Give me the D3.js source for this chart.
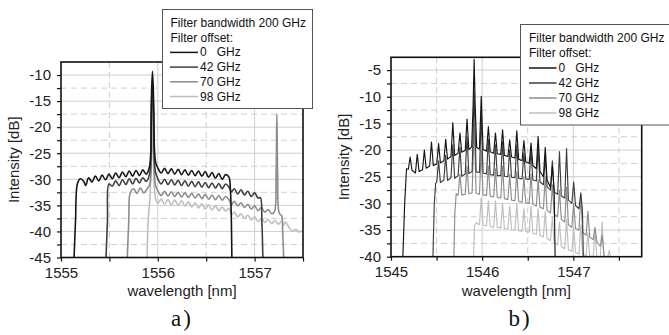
<!DOCTYPE html>
<html>
<head>
<meta charset="utf-8">
<script src="https://cdn.jsdelivr.net/npm/d3@7"></script>
<style>
  body { margin: 0; background: #fff; }
  svg { display: block; font-family: "Liberation Sans", Arial, sans-serif; }
</style>
</head>
<body>
<svg id="chart" width="669" height="335"></svg>
<script>
// ---- data (wavelength nm, intensity dB) ----
const legendTitle = ["Filter bandwidth 200 GHz", "Filter offset:"];
const offsetNames = ["0   GHz", "42 GHz", "70 GHz", "98 GHz"];

const wlTicksA = [1555, 1555.5, 1556, 1556.5, 1557, 1557.5];
const dbTicksA = [-45, -42.5, -40, -37.5, -35, -32.5, -30, -27.5, -25, -22.5, -20, -17.5, -15, -12.5, -10];
const wlTicksB = [1545, 1545.5, 1546, 1546.5, 1547, 1547.5];
const dbTicksB = [-40, -37.5, -35, -32.5, -30, -27.5, -25, -22.5, -20, -17.5, -15, -12.5, -10, -7.5, -5];

// panel a)
const specA0 = [[1555.135,-45],[1555.15,-38],[1555.17,-30.8],[1555.2,-29.9],[1555.235,-30.4],[1555.255,-31.2],[1555.285,-29.7],[1555.32,-30.5],[1555.355,-29.4],[1555.39,-30.3],[1555.425,-29.2],[1555.46,-30.1],[1555.495,-29.0],[1555.53,-29.9],[1555.565,-28.8],[1555.6,-29.7],[1555.635,-28.6],[1555.67,-29.5],[1555.705,-28.4],[1555.74,-29.4],[1555.775,-28.3],[1555.81,-29.3],[1555.845,-28.2],[1555.88,-29.0],[1555.915,-27.5],[1555.933,-15],[1555.945,-9.3],[1555.957,-15],[1555.975,-26.5],[1556.0,-27.8],[1556.035,-28.8],[1556.07,-27.9],[1556.105,-28.9],[1556.14,-28.0],[1556.175,-29.0],[1556.21,-28.1],[1556.245,-29.1],[1556.28,-28.2],[1556.315,-29.2],[1556.35,-28.3],[1556.385,-29.3],[1556.42,-28.4],[1556.455,-29.4],[1556.49,-28.5],[1556.525,-29.6],[1556.56,-28.7],[1556.595,-29.8],[1556.63,-28.9],[1556.665,-30.0],[1556.7,-29.1],[1556.735,-29.6],[1556.75,-32],[1556.765,-45]];
const specA42 = [[1555.465,-45],[1555.48,-38],[1555.495,-30.9],[1555.53,-31.3],[1555.565,-30.3],[1555.6,-31.2],[1555.635,-30.1],[1555.67,-31.0],[1555.705,-29.9],[1555.74,-30.9],[1555.775,-29.8],[1555.81,-30.7],[1555.845,-29.7],[1555.88,-30.4],[1555.915,-29],[1555.933,-18],[1555.945,-12.5],[1555.957,-18],[1555.975,-28.5],[1556.0,-29.9],[1556.035,-30.9],[1556.07,-30.0],[1556.105,-31.0],[1556.14,-30.1],[1556.175,-31.1],[1556.21,-30.2],[1556.245,-31.2],[1556.28,-30.3],[1556.315,-31.3],[1556.35,-30.4],[1556.385,-31.4],[1556.42,-30.5],[1556.455,-31.5],[1556.49,-30.6],[1556.525,-31.6],[1556.56,-30.7],[1556.595,-31.7],[1556.63,-30.8],[1556.665,-31.8],[1556.7,-30.9],[1556.735,-31.5],[1556.76,-32.4],[1556.79,-31.8],[1556.825,-32.8],[1556.86,-32.0],[1556.895,-33.0],[1556.93,-32.3],[1556.965,-33.3],[1557.0,-32.6],[1557.035,-33.6],[1557.06,-33.5],[1557.075,-38],[1557.085,-45]];
const specA70 = [[1555.685,-45],[1555.7,-38],[1555.715,-32.6],[1555.75,-31.8],[1555.785,-32.7],[1555.82,-31.7],[1555.855,-32.6],[1555.89,-31.8],[1555.917,-31],[1555.935,-20],[1555.945,-14.5],[1555.955,-20],[1555.975,-31],[1556.0,-32.2],[1556.035,-33.1],[1556.07,-32.3],[1556.105,-33.2],[1556.14,-32.4],[1556.175,-33.3],[1556.21,-32.5],[1556.245,-33.4],[1556.28,-32.6],[1556.315,-33.5],[1556.35,-32.7],[1556.385,-33.6],[1556.42,-32.8],[1556.455,-33.7],[1556.49,-32.9],[1556.525,-33.8],[1556.56,-33.0],[1556.595,-33.9],[1556.63,-33.1],[1556.665,-34.0],[1556.7,-33.3],[1556.735,-33.9],[1556.76,-34.9],[1556.79,-34.2],[1556.825,-35.1],[1556.86,-34.5],[1556.895,-35.4],[1556.93,-34.8],[1556.965,-35.7],[1557.0,-35.1],[1557.035,-36.0],[1557.07,-35.4],[1557.105,-36.3],[1557.14,-35.8],[1557.175,-36.6],[1557.205,-36.2],[1557.222,-29],[1557.23,-17.5],[1557.238,-29],[1557.255,-36.5],[1557.28,-37],[1557.29,-40],[1557.3,-45]];
const specA98 = [[1555.89,-45],[1555.9,-38],[1555.917,-34],[1555.937,-24],[1555.945,-17.5],[1555.953,-24],[1555.975,-33.5],[1556.0,-34.6],[1556.035,-33.8],[1556.07,-34.8],[1556.105,-33.9],[1556.14,-34.9],[1556.175,-34.0],[1556.21,-35.0],[1556.245,-34.1],[1556.28,-35.1],[1556.315,-34.3],[1556.35,-35.3],[1556.385,-34.5],[1556.42,-35.5],[1556.455,-34.7],[1556.49,-35.7],[1556.525,-34.9],[1556.56,-35.9],[1556.595,-35.1],[1556.63,-36.0],[1556.665,-35.3],[1556.7,-36.1],[1556.735,-35.5],[1556.76,-36.8],[1556.79,-36.3],[1556.825,-37.2],[1556.86,-36.6],[1556.895,-37.5],[1556.93,-36.9],[1556.965,-37.8],[1557.0,-37.2],[1557.035,-38.1],[1557.07,-37.5],[1557.105,-38.3],[1557.14,-37.7],[1557.175,-38.5],[1557.21,-37.9],[1557.245,-38.6],[1557.28,-38.0],[1557.3,-38.8],[1557.32,-38.2],[1557.355,-39.2],[1557.39,-39.9],[1557.425,-39.6],[1557.46,-40.1],[1557.5,-39.8]];

// panel b)
const specB0 = [[1545.13,-40],[1545.15,-30],[1545.17,-23.5],[1545.19,-23.6],[1545.21,-21.3],[1545.23,-23.8],[1545.268,-24.3],[1545.288,-20.8],[1545.308,-24.0],[1545.346,-23.7],[1545.366,-20.0],[1545.386,-23.4],[1545.424,-23.0],[1545.444,-18.5],[1545.464,-22.9],[1545.502,-22.6],[1545.522,-18.8],[1545.542,-22.4],[1545.58,-22.0],[1545.6,-18.0],[1545.62,-21.7],[1545.658,-21.2],[1545.678,-14.9],[1545.698,-21.0],[1545.736,-20.6],[1545.756,-16.8],[1545.776,-20.4],[1545.814,-20.1],[1545.834,-14.2],[1545.854,-19.9],[1545.885,-19.4],[1545.9,-12],[1545.912,-3.0],[1545.924,-12],[1545.94,-19.5],[1545.97,-19.8],[1545.99,-9.9],[1546.01,-19.9],[1546.048,-20.2],[1546.068,-15.6],[1546.088,-20.3],[1546.126,-20.6],[1546.146,-16.8],[1546.166,-20.7],[1546.204,-20.8],[1546.224,-16.2],[1546.244,-21.0],[1546.282,-21.2],[1546.302,-18.1],[1546.322,-21.3],[1546.36,-21.5],[1546.38,-16.4],[1546.4,-21.7],[1546.438,-22.0],[1546.458,-18.2],[1546.478,-22.2],[1546.516,-22.5],[1546.536,-18.7],[1546.556,-22.9],[1546.594,-23.5],[1546.614,-17.4],[1546.634,-24.0],[1546.672,-25.0],[1546.692,-19.5],[1546.712,-25.6],[1546.75,-27.0],[1546.77,-23.0],[1546.79,-27.8],[1546.8,-40]];
const specB42 = [[1545.46,-40],[1545.475,-30],[1545.49,-26.2],[1545.502,-26.0],[1545.522,-22.0],[1545.542,-26.1],[1545.58,-25.6],[1545.6,-21.0],[1545.62,-25.7],[1545.658,-25.2],[1545.678,-19.0],[1545.698,-25.3],[1545.736,-24.8],[1545.756,-19.5],[1545.776,-24.9],[1545.814,-24.5],[1545.834,-17.5],[1545.854,-24.4],[1545.89,-24.0],[1545.912,-9.0],[1545.934,-24.1],[1545.97,-24.2],[1545.99,-13.5],[1546.01,-24.3],[1546.048,-24.5],[1546.068,-18.0],[1546.088,-24.6],[1546.126,-24.7],[1546.146,-19.0],[1546.166,-24.8],[1546.204,-24.8],[1546.224,-18.5],[1546.244,-24.9],[1546.282,-25.0],[1546.302,-20.0],[1546.322,-25.1],[1546.36,-25.2],[1546.38,-19.0],[1546.4,-25.3],[1546.438,-25.4],[1546.458,-20.5],[1546.478,-25.4],[1546.516,-25.5],[1546.536,-20.0],[1546.556,-25.6],[1546.594,-25.8],[1546.614,-19.5],[1546.634,-26.0],[1546.672,-26.5],[1546.692,-21.0],[1546.712,-26.9],[1546.75,-27.5],[1546.77,-22.0],[1546.79,-27.9],[1546.828,-28.3],[1546.848,-20.3],[1546.868,-28.6],[1546.906,-29.0],[1546.926,-19.7],[1546.946,-29.4],[1546.984,-30.0],[1547.004,-26.0],[1547.024,-30.4],[1547.062,-31.0],[1547.082,-28.0],[1547.1,-31.3],[1547.11,-40]];
const specB70 = [[1545.69,-40],[1545.7,-32],[1545.715,-28.2],[1545.736,-28.5],[1545.756,-24.5],[1545.776,-28.4],[1545.814,-28.3],[1545.834,-23.0],[1545.854,-28.2],[1545.89,-28.0],[1545.912,-15.0],[1545.934,-28.1],[1545.97,-28.3],[1545.99,-20.0],[1546.01,-28.4],[1546.048,-28.5],[1546.068,-23.0],[1546.088,-28.6],[1546.126,-28.8],[1546.146,-23.5],[1546.166,-28.9],[1546.204,-29.0],[1546.224,-23.0],[1546.244,-29.1],[1546.282,-29.3],[1546.302,-24.5],[1546.322,-29.4],[1546.36,-29.5],[1546.38,-24.0],[1546.4,-29.6],[1546.438,-29.8],[1546.458,-25.0],[1546.478,-29.9],[1546.516,-30.0],[1546.536,-24.5],[1546.556,-30.2],[1546.594,-30.5],[1546.614,-25.5],[1546.634,-30.7],[1546.672,-31.0],[1546.692,-25.0],[1546.712,-31.3],[1546.75,-31.8],[1546.77,-26.5],[1546.79,-32.1],[1546.828,-32.5],[1546.848,-27.5],[1546.868,-33.0],[1546.906,-33.5],[1546.926,-27.0],[1546.946,-34.0],[1546.984,-34.5],[1547.004,-30.0],[1547.024,-34.7],[1547.062,-35.0],[1547.082,-28.5],[1547.102,-35.4],[1547.14,-36.0],[1547.16,-31.5],[1547.18,-36.3],[1547.218,-36.8],[1547.238,-34.5],[1547.258,-37.2],[1547.296,-38.0],[1547.316,-36.0],[1547.33,-38.5],[1547.34,-40]];
const specB98 = [[1545.905,-40],[1545.915,-34.5],[1545.93,-33.6],[1545.97,-34.0],[1545.99,-29.0],[1546.01,-34.1],[1546.048,-34.2],[1546.068,-29.5],[1546.088,-34.3],[1546.126,-34.5],[1546.146,-29.5],[1546.166,-34.5],[1546.204,-34.6],[1546.224,-30.0],[1546.244,-34.7],[1546.282,-34.8],[1546.302,-30.5],[1546.322,-34.9],[1546.36,-35.0],[1546.38,-30.0],[1546.4,-35.1],[1546.438,-35.2],[1546.458,-31.0],[1546.478,-35.3],[1546.516,-35.4],[1546.536,-30.5],[1546.556,-35.6],[1546.594,-35.8],[1546.614,-31.0],[1546.634,-36.0],[1546.672,-36.3],[1546.692,-31.5],[1546.712,-36.6],[1546.75,-37.0],[1546.77,-32.5],[1546.79,-37.4],[1546.828,-37.8],[1546.848,-33.5],[1546.868,-38.1],[1546.906,-38.5],[1546.926,-33.0],[1546.946,-38.7],[1546.984,-39.0],[1547.004,-34.5],[1547.024,-39.2],[1547.062,-39.5],[1547.082,-34.0],[1547.102,-39.6],[1547.14,-39.8],[1547.16,-35.5],[1547.18,-39.9],[1547.218,-40.0],[1547.238,-35.0],[1547.258,-40.2],[1547.296,-40.2],[1547.316,-33.5],[1547.336,-40.3],[1547.374,-40.3],[1547.394,-38.8],[1547.414,-40.5]];

const lineColors = ["#151515", "#3e3e3e", "#8c8c8c", "#bebebe"];

const svg = d3.select("#chart");

const panels = [
  { id: "a", left: 61, right: 303, bottom: 257.5, top: 62,
    xDom: [1555, 1557.5], yDom: [-45, -7.5],
    xTicks: wlTicksA, yTicks: dbTicksA,
    series: [specA0, specA42, specA70, specA98], width: 1.6,
    curve: d3.curveCatmullRom.alpha(0.5),
    leg: { x: 162.5, y: 9.5, w: 150, h: 99, tx: 170.5, ty: 27, dy: 14.7, l0: 170, l1: 198, lt: 200 },
    titleX: 19, label: "a)", labelX: 182 },
  { id: "b", left: 391, right: 641.7, bottom: 256.7, top: 57.3,
    xDom: [1545, 1547.75], yDom: [-40, -2.6],
    xTicks: wlTicksB, yTicks: dbTicksB,
    series: [specB0, specB42, specB70, specB98], width: 1.15,
    curve: d3.curveLinear,
    leg: { x: 520.5, y: 24.5, w: 160, h: 100.5, tx: 529, ty: 42, dy: 15, l0: 529, l1: 556.5, lt: 558.5 },
    titleX: 349, label: "b)", labelX: 520 }
];

panels.forEach(p => {
  const x = d3.scaleLinear().domain(p.xDom).range([p.left, p.right]);
  const y = d3.scaleLinear().domain(p.yDom).range([p.bottom, p.top]);
  const g = svg.append("g");

  g.append("clipPath").attr("id", "clip-" + p.id)
    .append("rect")
    .attr("x", p.left).attr("y", p.top)
    .attr("width", p.right - p.left).attr("height", p.bottom - p.top);

  // grid: solid on whole 5 dB / whole nm, dashed in between
  const isMajorY = d => d % 5 === 0;
  const isMajorX = d => d % 1 === 0;
  g.selectAll(".hgrid")
    .data(p.yTicks.filter(d => d !== p.yDom[0]))
    .join("line")
    .attr("x1", p.left).attr("x2", p.right)
    .attr("y1", d => y(d)).attr("y2", d => y(d))
    .attr("stroke", "#cfcfcf").attr("stroke-width", 1)
    .attr("stroke-dasharray", d => isMajorY(d) ? null : "6,4");
  g.selectAll(".vgrid")
    .data(p.xTicks.filter(d => x(d) > p.left + 1 && x(d) < p.right - 1))
    .join("line")
    .attr("y1", p.top).attr("y2", p.bottom)
    .attr("x1", d => x(d)).attr("x2", d => x(d))
    .attr("stroke", "#cfcfcf").attr("stroke-width", 1)
    .attr("stroke-dasharray", d => isMajorX(d) ? null : "6,4");

  // spectra, lightest first
  const line = d3.line().x(d => x(d[0])).y(d => y(d[1])).curve(p.curve);
  const order = [3, 2, 1, 0];
  g.append("g").attr("clip-path", `url(#clip-${p.id})`)
    .selectAll("path")
    .data(order)
    .join("path")
    .attr("d", i => line(p.series[i]))
    .attr("fill", "none")
    .attr("stroke", i => lineColors[i])
    .attr("stroke-width", p.width)
    .attr("stroke-linejoin", "round");

  // frame
  g.append("rect")
    .attr("x", p.left).attr("y", p.top)
    .attr("width", p.right - p.left).attr("height", p.bottom - p.top)
    .attr("fill", "none").attr("stroke", "#111").attr("stroke-width", 1.6);

  // axes
  const yAxis = d3.axisLeft(y).tickValues(p.yTicks).tickSize(4).tickPadding(6)
    .tickFormat(d => isMajorY(d) ? d : "");
  const xAxis = d3.axisBottom(x).tickValues(p.xTicks).tickSize(4).tickPadding(6)
    .tickFormat(d => isMajorX(d) ? d : "");
  [g.append("g").attr("transform", `translate(${p.left},0)`).call(yAxis),
   g.append("g").attr("transform", `translate(0,${p.bottom})`).call(xAxis)]
    .forEach(a => {
      a.select(".domain").remove();
      a.selectAll(".tick line").attr("stroke", "#111").attr("stroke-width", 1.2);
      a.selectAll("text").attr("fill", "#222").style("font-size", "15px")
        .style("font-family", '"Liberation Sans", Arial, sans-serif');
    });

  // titles
  g.append("text")
    .attr("transform", `translate(${p.titleX},${(p.top + p.bottom) / 2}) rotate(-90)`)
    .attr("text-anchor", "middle").attr("fill", "#222").style("font-size", "15px")
    .text("Intensity [dB]");
  g.append("text")
    .attr("x", (p.left + p.right) / 2).attr("y", 296)
    .attr("text-anchor", "middle").attr("fill", "#222").style("font-size", "15px")
    .text("wavelength [nm]");
  g.append("text")
    .attr("x", p.labelX).attr("y", 326)
    .attr("text-anchor", "middle").attr("fill", "#111")
    .style("font-family", '"Liberation Serif", "Times New Roman", serif')
    .style("font-size", "23px").style("letter-spacing", "2px")
    .text(p.label);

  // legend box
  const L = p.leg;
  const lg = g.append("g");
  lg.append("rect").attr("x", L.x).attr("y", L.y).attr("width", L.w).attr("height", L.h)
    .attr("fill", "#fff").attr("stroke", "#555").attr("stroke-width", 1);
  lg.selectAll(".lt").data(legendTitle).join("text")
    .attr("x", L.tx).attr("y", (d, i) => L.ty + i * L.dy)
    .attr("fill", "#111").style("font-size", "12px").text(d => d);
  const rows = lg.selectAll(".row").data(offsetNames).join("g")
    .attr("transform", (d, i) => `translate(0,${L.ty + (i + 2) * L.dy})`);
  rows.append("line")
    .attr("x1", L.l0).attr("x2", L.l1).attr("y1", -4).attr("y2", -4)
    .attr("stroke", (d, i) => lineColors[i]).attr("stroke-width", 1.5);
  rows.append("text")
    .attr("x", L.lt).attr("fill", "#111").style("font-size", "12px")
    .style("white-space", "pre").text(d => d);
});
</script>
</body>
</html>
